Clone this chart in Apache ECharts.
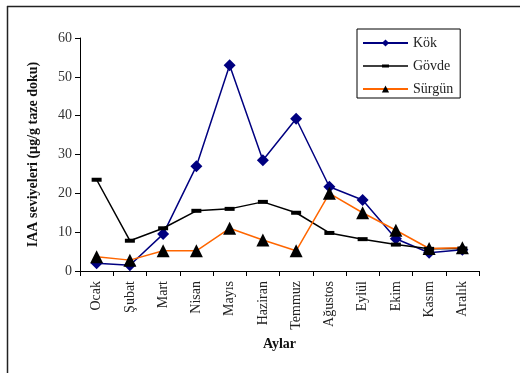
<!DOCTYPE html>
<html>
<head>
<meta charset="utf-8">
<script src="https://cdn.jsdelivr.net/npm/echarts@6/dist/echarts.min.js"></script>
<style>
  html, body { margin: 0; padding: 0; background: #fff; }
  #chart { width: 520px; height: 373px; }
</style>
</head>
<body>
<div id="chart"></div>
<script>
const months = ['Ocak', 'Şubat', 'Mart', 'Nisan', 'Mayıs', 'Haziran', 'Temmuz', 'Ağustos', 'Eylül', 'Ekim', 'Kasım', 'Aralık']
const kok = [2, 1.5, 9.5, 27, 53, 28.5, 39.2, 21.7, 18.3, 8.3, 4.7, 5.5]
const govde = [23.5, 7.8, 11, 15.5, 16, 17.8, 15, 9.8, 8.2, 6.8, 5.7, 5.8]
const surgun = [3.7, 2.8, 5.2, 5.2, 11, 8, 5.2, 20, 15, 10.5, 5.8, 6]
const yTicks = [0, 10, 20, 30, 40, 50, 60]

const serif = '"Liberation Serif", "DejaVu Serif", serif'
const myChart = echarts.init(document.getElementById('chart'))

// legend icon for Gövde: thin line with a short thick bar in the middle
const govdeIcon = 'path://M0,0L0,0ZM0,8L0,8ZM0,3.3H19V2.5H26V3.3H45V4.7H26V5.5H19V4.7H0Z'

myChart.setOption({
  animation: false,
  textStyle: { fontFamily: serif },
  graphic: [
    { type: 'line', shape: { x1: 7, y1: 6.5, x2: 520, y2: 6.5 }, style: { stroke: '#222', lineWidth: 1.5 } },
    { type: 'line', shape: { x1: 7.5, y1: 6, x2: 7.5, y2: 373 }, style: { stroke: '#222', lineWidth: 1.5 } }
  ],
  legend: {
    orient: 'vertical',
    left: 357,
    top: 29,
    padding: [7, 7, 2, 5],
    itemGap: 9,
    itemWidth: 45,
    itemHeight: 9,
    borderColor: '#000',
    borderWidth: 1,
    textStyle: { fontFamily: serif, fontSize: 14, color: '#222' },
    data: [
      { name: 'Kök' },
      { name: 'Gövde', icon: govdeIcon },
      { name: 'Sürgün' }
    ]
  },
  grid: { left: 80, right: 41, top: 38, bottom: 102 },
  xAxis: {
    type: 'category',
    data: months,
    boundaryGap: true,
    name: 'Aylar',
    nameLocation: 'middle',
    nameGap: 65,
    nameTextStyle: { fontFamily: serif, fontWeight: 'bold', fontSize: 14, color: '#111' },
    axisLine: { lineStyle: { color: '#000', width: 1 } },
    axisTick: { show: true, length: 5, lineStyle: { color: '#000' } },
    axisLabel: { rotate: 90, margin: 10, fontFamily: serif, fontSize: 14, color: '#222' },
    splitLine: { show: false }
  },
  yAxis: {
    type: 'value',
    min: yTicks[0],
    max: yTicks[yTicks.length - 1],
    interval: 10,
    name: 'IAA seviyeleri (µg/g taze doku)',
    nameLocation: 'middle',
    nameRotate: 90,
    nameGap: 40,
    nameTextStyle: { fontFamily: serif, fontWeight: 'bold', fontSize: 14, color: '#111' },
    axisLine: { show: true, lineStyle: { color: '#000', width: 1 } },
    axisTick: { show: true, length: 5, lineStyle: { color: '#000' } },
    axisLabel: { margin: 8, fontFamily: serif, fontSize: 14, color: '#333' },
    splitLine: { show: false }
  },
  series: [
    {
      name: 'Kök',
      type: 'line',
      data: kok,
      symbol: 'diamond',
      symbolSize: 12,
      lineStyle: { color: '#000080', width: 1.5 },
      itemStyle: { color: '#000080' }
    },
    {
      name: 'Gövde',
      type: 'line',
      data: govde,
      symbol: 'rect',
      symbolSize: [10, 4],
      lineStyle: { color: '#000', width: 1.5 },
      itemStyle: { color: '#000' }
    },
    {
      name: 'Sürgün',
      type: 'line',
      data: surgun,
      symbol: 'triangle',
      symbolSize: 13,
      lineStyle: { color: '#ff6600', width: 1.5 },
      itemStyle: { color: '#000' }
    }
  ]
})
</script>
</body>
</html>
